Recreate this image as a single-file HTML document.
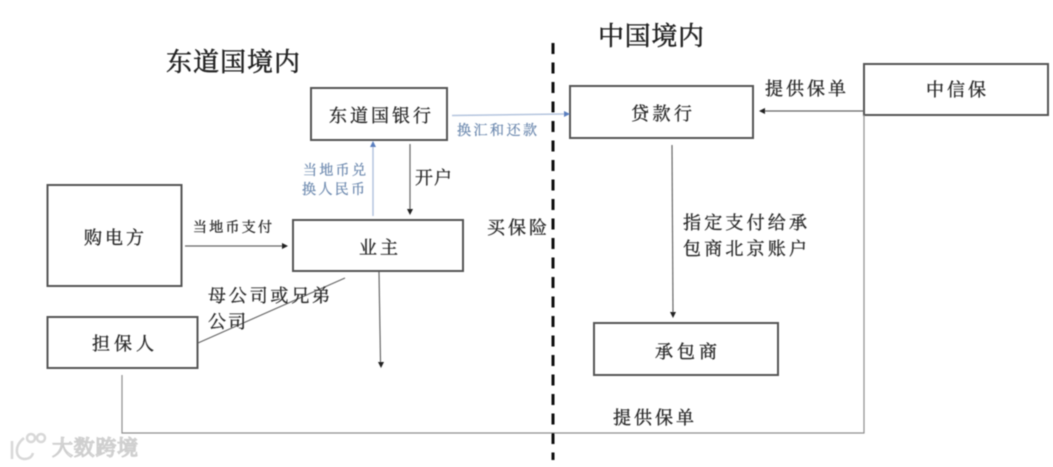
<!DOCTYPE html>
<html><head><meta charset="utf-8"><style>
html,body{margin:0;padding:0;background:#fff}
svg{display:block}
text{font-family:"Liberation Serif","Noto Serif CJK SC",serif;fill:#2a2a2a;stroke:#2a2a2a;stroke-width:0.35}
</style></head><body>
<svg width="1053" height="467" viewBox="0 0 1053 467" xmlns="http://www.w3.org/2000/svg">
<defs><filter id="b" x="-2%" y="-2%" width="104%" height="104%"><feGaussianBlur stdDeviation="0.45"/></filter></defs>
<rect width="1053" height="467" fill="#fff"/>
<g filter="url(#b)">
<g fill="none" stroke="#555" stroke-width="2">
<rect x="47.500" y="185" width="134" height="101"/>
<rect x="47.500" y="317" width="150" height="51"/>
<rect x="293" y="220" width="170" height="51"/>
<rect x="311" y="88" width="136" height="52"/>
<rect x="570" y="86" width="183" height="52"/>
<rect x="864" y="64" width="184" height="51"/>
<rect x="594" y="323" width="184" height="52"/>
</g>
<g fill="none" stroke="#666" stroke-width="1.200">
<path d="M185 246H283"/>
<path d="M410 144V211"/>
<path d="M864 111H764"/>
<path d="M379 272L380.500 362"/>
<path d="M672 145L673 312"/>
<path d="M345 278L198 343"/>
<path d="M122 375V433H864V115" stroke="#8f8f8f"/>
</g>
<g fill="none" stroke="#b4c4de" stroke-width="1.500">
<path d="M373 216V146"/>
<path d="M452 115.500L564 114"/>
</g>
<path d="M553 43V460" stroke="#111" stroke-width="3" stroke-dasharray="11 8.500" fill="none"/>
<g fill="#222">
<path d="M282 243l6 3-6 3z"/>
<path d="M407 209h6l-3 6z"/>
<path d="M765 108l-6 3 6 3z"/>
<path d="M378 362h6l-3 6z"/>
<path d="M670 312h6l-3 6z"/>
</g>
<g fill="#5a7fc0">
<path d="M370 147l3-6 3 6z"/>
<path d="M564 111l6 3-6 3z"/>
</g>
<text x="166" y="71" font-size="26" style="fill:#222;stroke:#222;stroke-width:.5" textLength="134">东道国境内</text>
<text x="598" y="45" font-size="26" style="fill:#222;stroke:#222;stroke-width:.5" textLength="106">中国境内</text>
<g font-size="18">
<text x="84" y="244" textLength="60">购电方</text>
<text x="92" y="350" textLength="62">担保人</text>
<text x="359" y="254" textLength="39">业主</text>
<text x="329" y="122" textLength="102">东道国银行</text>
<text x="631" y="120" textLength="61">贷款行</text>
<text x="926" y="96" textLength="60">中信保</text>
<text x="655" y="358" textLength="62">承包商</text>
<text x="415" y="184" textLength="37">开户</text>
<text x="487" y="234" textLength="60">买保险</text>
<text x="765" y="95" textLength="81">提供保单</text>
<text x="613" y="424" textLength="81">提供保单</text>
<text x="683" y="229" textLength="124">指定支付给承</text>
<text x="683" y="255" textLength="124">包商北京账户</text>
<text x="208" y="302" textLength="122">母公司或兄弟</text>
<text x="208" y="328" textLength="38">公司</text>
</g>
<text x="193" y="232" font-size="14" textLength="79">当地币支付</text>
<g font-size="14">
<text x="303" y="175" style="fill:#6f8bb0;stroke:#6f8bb0;stroke-width:.3" textLength="63">当地币兑</text>
<text x="302" y="194" style="fill:#6f8bb0;stroke:#6f8bb0;stroke-width:.3" textLength="63">换人民币</text>
<text x="457" y="135" style="fill:#6f8bb0;stroke:#6f8bb0;stroke-width:.3" textLength="80">换汇和还款</text>
</g>
<g fill="none" stroke="#d8d8d8" stroke-width="2.500">
<path d="M12 441V459M24 438C14 446 15 458 24 459C29 459 32 457 33 453"/>
<circle cx="31" cy="438" r="4"/><circle cx="41" cy="438" r="4"/>
</g>
<text x="52" y="455" font-size="21" style="fill:#fff;stroke:#cfcfcf;stroke-width:1.300" textLength="86">大数跨境</text>
</g>
</svg>
</body></html>
